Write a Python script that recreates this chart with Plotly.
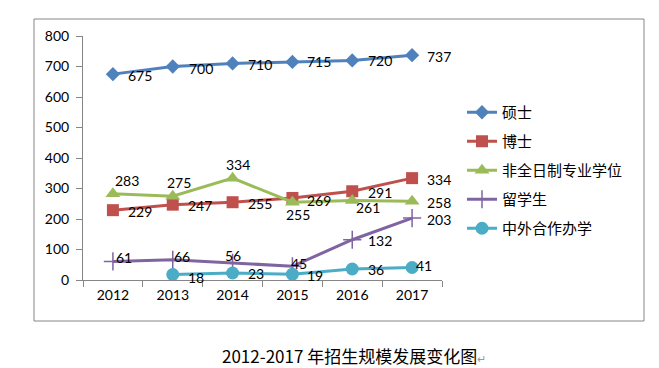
import plotly.graph_objects as go

years = ["2012", "2013", "2014", "2015", "2016", "2017"]
series_names = ["硕士", "博士", "非全日制专业学位", "留学生", "中外合作办学"]
master = [675, 700, 710, 715, 720, 737]
doctor = [229, 247, 255, 269, 291, 334]
parttime = [283, 275, 334, 255, 261, 258]
intl = [61, 66, 56, 45, 132, 203]
joint = [None, 18, 23, 19, 36, 41]
y_ticks = [0, 100, 200, 300, 400, 500, 600, 700, 800]
caption = "2012-2017 年招生规模发展变化图"

values = [master, doctor, parttime, intl, joint]
colors = ["#4F81BD", "#C0504D", "#9BBB59", "#8064A2", "#4BACC6"]
symbols = ["diamond", "square", "triangle-up", "cross-thin", "circle"]
msizes = [11, 12, 13, 13, 13]

# label offsets (pixels) per series / point
offsets = [
    [(27, -1), (28, -2), (27, -1), (27, 0), (28, 0), (27, -1)],
    [(27, -1), (27, -1), (27, -1), (27, -3), (28, -1), (27, -1)],
    [(14, 13), (6, 14), (5, 14), (6, -12), (16, -7), (27, -1)],
    [(11, 4), (9, 3), (0, 7), (7, 3), (28, -1), (27, -1)],
    [(0, 0), (23, -3), (23, -1), (23, -1), (24, 0), (12, 2)],
]

# page body has an 8px margin; work in screen pixels and convert
OFF = 8
SW, SH = 659, 368
W, H = SW - OFF, SH - OFF
L, R, T, B = 83 - OFF, 442 - OFF, 36 - OFF, 280 - OFF
pw, ph = R - L, B - T

def px(xs):
    return (xs - OFF - L) / pw

def py(ys):
    return (B - (ys - OFF)) / ph

fig = go.Figure()
font_num = dict(family="Lato, Liberation Sans, sans-serif", size=14, color="#000000")

for name, vals, col, sym, ms in zip(series_names, values, colors, symbols, msizes):
    fig.add_trace(go.Scatter(
        x=years, y=vals, name=name, mode="lines+markers",
        line=dict(color=col, width=3),
        marker=dict(symbol=sym, size=ms, color=col,
                    line=dict(color=col, width=1.5 if sym == "cross-thin" else 0)),
        legendgroup=name,
    ))

for vals, offs in zip(values, offsets):
    for i, (v, (dx, dy)) in enumerate(zip(vals, offs)):
        if v is None:
            continue
        fig.add_annotation(x=i, y=v, xref="x", yref="y", text=str(v), showarrow=False,
                           xshift=dx, yshift=dy, font=font_num)

fig.add_shape(type="rect", xref="paper", yref="paper",
              x0=px(34), x1=px(644), y0=py(321), y1=py(19),
              line=dict(color="#868686", width=1), fillcolor="rgba(0,0,0,0)")

fig.add_annotation(xref="paper", yref="paper", x=px(354), y=py(355),
                   xanchor="center", yanchor="middle",
                   text=caption + "<span style='color:#999999;font-size:11px'>↵</span>",
                   showarrow=False,
                   font=dict(family="Noto Sans CJK SC, sans-serif", size=17, color="#000000"))

fig.update_layout(
    width=W, height=H,
    margin=dict(l=L, r=W - R, t=T, b=H - B, pad=0),
    paper_bgcolor="white", plot_bgcolor="white",
    showlegend=True,
    legend=dict(x=px(462), y=py(96), xanchor="left", yanchor="top",
                font=dict(family="Noto Sans CJK SC, sans-serif", size=15, color="#000000"),
                tracegroupgap=6.5, itemwidth=30, bgcolor="rgba(0,0,0,0)"),
)

fig.update_xaxes(type="category", range=[-0.5, 5.5], showgrid=False,
                 showline=True, linecolor="#868686", linewidth=1,
                 ticks="outside", ticklen=6, tickcolor="#868686", tickson="boundaries",
                 tickfont=font_num, zeroline=False, ticklabelstandoff=2)
fig.update_yaxes(range=[0, 800], tickvals=y_ticks, showgrid=False,
                 showline=True, linecolor="#868686", linewidth=1,
                 ticks="outside", ticklen=6, tickcolor="#868686",
                 tickfont=font_num, zeroline=False, ticklabelstandoff=4)

fig.write_html("out.html")
